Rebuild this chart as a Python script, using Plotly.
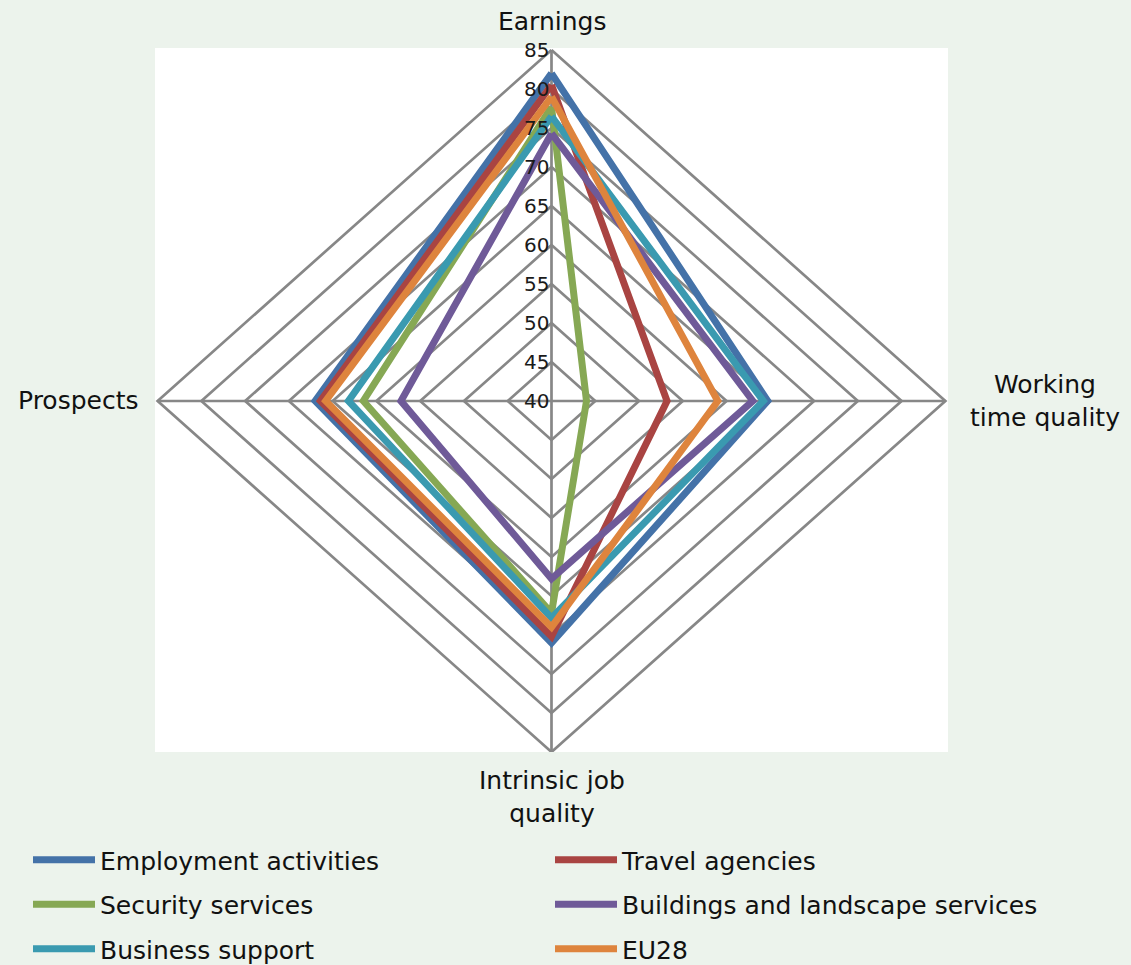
import numpy as np
import plotly.graph_objects as go

# ---------------- data ----------------
categories = ["Earnings", "Working time quality", "Intrinsic job quality", "Prospects"]
category_labels = ["Earnings", "Working<br>time quality", "Intrinsic job<br>quality", "Prospects"]

series_names = ["Employment activities", "Travel agencies", "Security services",
                "Buildings and landscape services", "Business support", "EU28"]
employment = [82.0, 64.7, 71.0, 67.0]
travel = [80.5, 53.2, 70.2, 66.4]
security = [77.7, 44.0, 67.2, 61.5]
buildings = [74.3, 63.0, 62.8, 57.2]
business = [76.5, 64.2, 67.8, 63.2]
eu28 = [79.0, 59.0, 69.0, 65.8]
series_values = [employment, travel, security, buildings, business, eu28]

tick_values = [40, 45, 50, 55, 60, 65, 70, 75, 80, 85]

# ---------------- style ----------------
colors = ["#4472A8", "#A94442", "#86A854", "#6F5A98", "#3A9AB0", "#DE843D"]
legend_of = ["legend", "legend2", "legend", "legend2", "legend", "legend2"]
bg = "#ECF3EC"
grid_color = "#878787"
font_family = "DejaVu Sans, Verdana, sans-serif"

r0 = tick_values[0]
rmax = tick_values[-1] - r0
# directions: Earnings up, Working time right, Intrinsic down, Prospects left
dirx = np.array([0.0, 1.0, 0.0, -1.0])
diry = np.array([1.0, 0.0, -1.0, 0.0])


def to_xy(values):
    r = np.asarray(values, dtype=float) - r0
    x = np.append(r * dirx, r[0] * dirx[0])
    y = np.append(r * diry, r[0] * diry[0])
    return x, y


fig = go.Figure()

# grid rings
for t in tick_values[1:]:
    x, y = to_xy([t] * len(categories))
    fig.add_trace(go.Scatter(x=x, y=y, mode="lines", line=dict(color=grid_color, width=2.7),
                             showlegend=False, hoverinfo="skip"))
# spokes
for i in range(len(categories)):
    fig.add_trace(go.Scatter(x=[0, rmax * dirx[i]], y=[0, rmax * diry[i]], mode="lines",
                             line=dict(color=grid_color, width=2.7),
                             showlegend=False, hoverinfo="skip"))

# series
for name, vals, col, lg in zip(series_names, series_values, colors, legend_of):
    x, y = to_xy(vals)
    fig.add_trace(go.Scatter(x=x, y=y, mode="lines", name=name,
                             line=dict(color=col, width=7),
                             legend=lg, legendgroup=name,
                             customdata=vals + [vals[0]],
                             hovertemplate=name + ": %{customdata}<extra></extra>"))

annotations = []
# radial tick labels
for t in tick_values:
    annotations.append(dict(x=0, y=t - r0, xref="x", yref="y", text=str(t), showarrow=False,
                            xanchor="right", yanchor="middle", xshift=-1,
                            font=dict(size=20, color="#1A1A1A", family=font_family)))

# category labels
label_font = dict(size=25, color="#111111", family=font_family)
annotations.append(dict(x=0, y=1.037, xref="x", yref="paper", text=category_labels[0],
                        showarrow=False, xanchor="center", yanchor="middle", font=label_font))
annotations.append(dict(x=1.122, y=0, xref="paper", yref="y", text=category_labels[1],
                        showarrow=False, xanchor="center", yanchor="middle", align="center",
                        font=label_font))
annotations.append(dict(x=0, y=-0.064, xref="x", yref="paper", text=category_labels[2],
                        showarrow=False, xanchor="center", yanchor="middle", align="center",
                        font=label_font))
annotations.append(dict(x=-0.018, y=0, xref="paper", yref="y", text=category_labels[3],
                        showarrow=False, xanchor="right", yanchor="middle", font=label_font))

legend_common = dict(orientation="v", bgcolor="rgba(0,0,0,0)", borderwidth=0,
                     font=dict(size=25, color="#111111", family=font_family),
                     itemwidth=62, tracegroupgap=9, xref="container", yref="container",
                     yanchor="top", xanchor="left", itemclick=False, itemdoubleclick=False)

fig.update_layout(
    width=1131, height=965,
    paper_bgcolor=bg, plot_bgcolor="white",
    margin=dict(l=155, r=183, t=48, b=213, autoexpand=False),
    xaxis=dict(range=[-45.3, 45.3], visible=False, fixedrange=True),
    yaxis=dict(range=[-45.0, 45.25], visible=False, fixedrange=True),
    annotations=annotations,
    legend=dict(x=28 / 1131, y=1 - 837 / 965, **legend_common),
    legend2=dict(x=550 / 1131, y=1 - 837 / 965, **legend_common),
    showlegend=True,
)

fig.write_html("out.html")
